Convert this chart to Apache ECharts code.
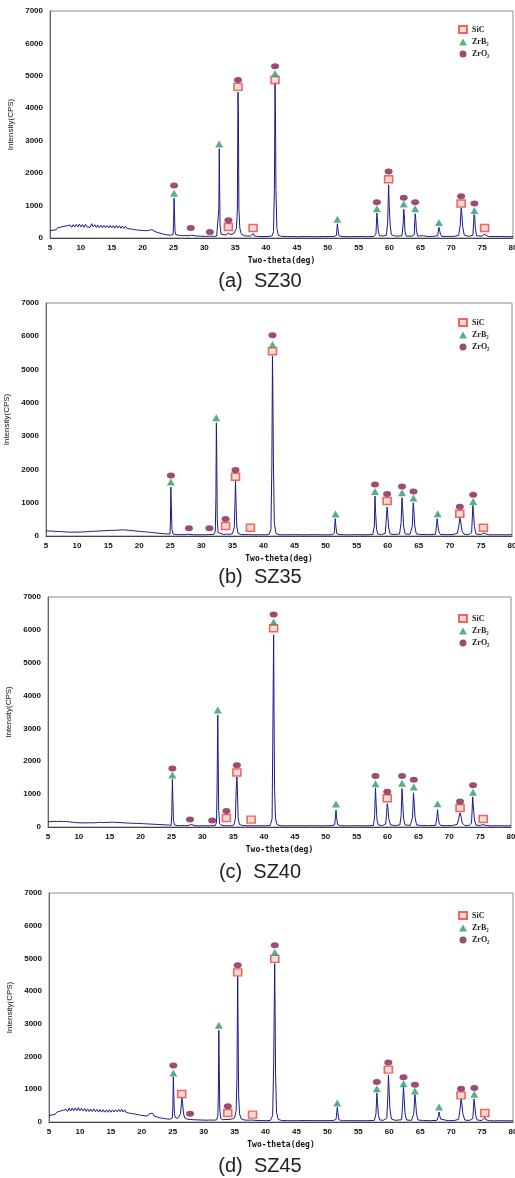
<!DOCTYPE html>
<html>
<head>
<meta charset="utf-8">
<script src="https://cdn.jsdelivr.net/npm/echarts@6/dist/echarts.min.js"></script>
<style>
  html, body { margin: 0; padding: 0; background: #fff; }
  #chart { width: 515px; height: 1178px; }
</style>
</head>
<body>
<div id="chart"></div>
<script>
// x-ray diffraction patterns, [2theta, counts]
const sz30Profile = [
  [5,230],[5.25,290],[5.5,240],[5.75,300],[6,255],[6.25,320],[6.5,270],[6.75,335],[7,290],[7.25,360],[7.5,300],[7.75,375],[8,320],[8.25,400],[8.5,330],[8.75,410],[9,335],[9.25,420],[9.5,340],[9.75,430],[10,345],[10.25,415],[10.5,330],[10.75,420],[11,340],[11.25,400],[11.5,330],[11.75,440],[12,340],[12.25,410],[12.5,325],[12.75,400],[13,320],[13.25,395],[13.5,315],[13.75,390],[14,320],[14.25,385],[14.5,310],[14.75,390],[15,315],[15.25,380],[15.5,305],[15.75,385],[16,310],[16.25,375],[16.5,300],[16.75,370],[17,295],[17.25,360],[17.5,290],[17.75,345],[18,280],[18.25,340],[18.5,265],[18.75,320],[19,250],[19.25,305],[19.5,240],[19.75,290],[20,230],[20.25,280],[20.5,225],[20.75,270],[21,235],[21.25,290],[21.5,260],[21.75,290],[22,200],[22.25,230],[22.5,165],[22.75,195],[23,140],[23.25,165],[23.5,115],[23.75,140],[24,95],[24.25,120],[24.5,85],[24.75,105],
  [24.95,110],[25.02,500],[25.1,1230],[25.16,800],[25.25,200],[25.4,100],[25.7,90],[26,80],[26.5,70],[27,75],[27.5,70],[27.7,90],[27.8,130],[27.9,85],[28.2,70],[28.8,60],[29.5,55],[30.2,50],[30.8,55],[30.9,80],[31,55],[31.5,50],[32,60],[32.25,120],[32.35,900],[32.42,2750],[32.48,1500],[32.55,400],[32.7,120],[33,80],[33.5,90],[33.85,150],[34,120],[34.3,110],[34.8,140],[35.2,300],[35.35,900],[35.45,4500],[35.52,3800],[35.6,900],[35.75,300],[36,120],[36.5,70],[37,60],[37.5,60],[37.8,70],[37.95,140],[38.1,65],[38.6,50],[39.3,45],[40,45],[40.6,50],[41,70],[41.2,200],[41.35,1500],[41.45,4750],[41.52,4000],[41.6,1500],[41.75,300],[42,80],[42.5,50],[43.5,45],[45,40],[46.5,45],[48,40],[49.5,45],[51,45],[51.4,80],[51.55,440],[51.65,250],[51.8,70],[52.3,45],[53.5,40],[55,45],[56.5,40],[57.5,50],[57.8,120],[57.95,770],[58.05,600],[58.15,250],[58.35,70],[59,60],[59.5,90],[59.7,500],[59.85,1640],[59.95,1000],[60.1,400],[60.3,100],[61,55],[62,70],[62.2,400],[62.3,890],[62.4,700],[62.5,200],[62.7,60],[63.6,55],[64,100],[64.15,750],[64.25,600],[64.35,250],[64.55,60],[65.5,70],[65.6,90],[66,50],[67,50],[67.8,70],[68,330],[68.1,250],[68.25,120],[68.45,50],[69.5,50],[70.5,50],[71.2,80],[71.45,400],[71.6,920],[71.7,800],[71.85,350],[72.1,90],[72.8,50],[73.5,80],[73.7,720],[73.8,650],[73.9,300],[74.1,70],[75,55],[75.3,120],[75.4,175],[75.55,90],[76,50],[77,45],[78,45],[79,40],[80,45]
];
const sz35Profile = [
  [5,160],[5.25,115],[5.5,150],[5.75,110],[6,145],[6.25,105],[6.5,140],[6.75,100],[7,135],[7.25,95],[7.5,130],[7.75,90],[8,125],[8.25,85],[8.5,120],[8.75,85],[9,115],[9.25,80],[9.5,115],[9.75,80],[10,120],[10.25,85],[10.5,115],[10.75,85],[11,125],[11.25,90],[11.5,130],[11.75,95],[12,135],[12.25,100],[12.5,140],[12.75,105],[13,145],[13.25,110],[13.5,150],[13.75,115],[14,155],[14.25,115],[14.5,160],[14.75,120],[15,165],[15.25,125],[15.5,170],[15.75,130],[16,170],[16.25,130],[16.5,175],[16.75,135],[17,180],[17.25,135],[17.5,185],[17.75,135],[18,175],[18.25,130],[18.5,170],[18.75,125],[19,160],[19.25,115],[19.5,150],[19.75,110],[20,140],[20.25,100],[20.5,130],[20.75,95],[21,125],[21.25,90],[21.5,115],[21.75,80],[22,105],[22.25,70],[22.5,95],[22.75,60],[23,85],[23.25,55],[23.5,75],[23.75,45],[24,70],[24.25,45],[24.5,60],[24.75,40],
  [24.95,60],[25.02,400],[25.1,1470],[25.17,900],[25.27,200],[25.45,60],[25.8,45],[26.3,40],[26.8,45],[27.4,40],[27.85,55],[28,100],[28.15,50],[28.7,40],[29.3,35],[30,40],[30.7,35],[31.15,45],[31.3,70],[31.45,40],[32,45],[32.25,150],[32.35,1200],[32.42,3400],[32.48,2500],[32.56,500],[32.7,100],[33,50],[33.6,45],[33.85,90],[34.05,55],[34.6,50],[35,70],[35.3,250],[35.42,1000],[35.5,1650],[35.58,1050],[35.7,300],[35.9,80],[36.4,45],[37,40],[37.6,45],[37.85,60],[38.1,40],[38.8,35],[39.5,40],[40.3,35],[40.9,50],[41.2,200],[41.35,2100],[41.45,5410],[41.52,4200],[41.6,2200],[41.75,400],[42,80],[42.5,40],[43.5,35],[45,40],[46.5,35],[48,40],[49.5,35],[51,40],[51.4,80],[51.55,520],[51.65,300],[51.8,70],[52.3,40],[53.5,35],[55,40],[56.5,35],[57.6,45],[57.85,300],[57.95,1200],[58.05,700],[58.2,200],[58.4,60],[59,45],[59.6,80],[59.8,600],[59.9,870],[60,650],[60.15,250],[60.4,60],[61,45],[61.9,60],[62.15,400],[62.3,1150],[62.4,850],[62.55,300],[62.8,60],[63.6,50],[63.95,300],[64.1,1000],[64.2,800],[64.35,300],[64.6,60],[65.5,45],[66.5,40],[67.7,50],[67.95,520],[68.05,350],[68.2,150],[68.45,45],[69.5,40],[70.5,45],[71.2,80],[71.45,300],[71.6,540],[71.75,420],[71.95,150],[72.3,50],[73,45],[73.5,100],[73.7,920],[73.8,700],[73.95,280],[74.2,60],[75,45],[75.3,70],[75.45,90],[75.6,55],[76.2,40],[77,35],[78,40],[79,35],[80,40]
];
const sz40Profile = [
  [5,160],[5.25,120],[5.5,165],[5.75,125],[6,170],[6.25,125],[6.5,165],[6.75,120],[7,170],[7.25,125],[7.5,165],[7.75,120],[8,170],[8.25,115],[8.5,155],[8.75,105],[9,145],[9.25,95],[9.5,135],[9.75,90],[10,130],[10.25,85],[10.5,125],[10.75,85],[11,125],[11.25,85],[11.5,130],[11.75,90],[12,125],[12.25,85],[12.5,130],[12.75,90],[13,135],[13.25,95],[13.5,140],[13.75,95],[14,135],[14.25,95],[14.5,140],[14.75,100],[15,145],[15.25,100],[15.5,145],[15.75,100],[16,140],[16.25,95],[16.5,135],[16.75,90],[17,130],[17.25,85],[17.5,125],[17.75,85],[18,120],[18.25,80],[18.5,115],[18.75,75],[19,110],[19.25,75],[19.5,110],[19.75,70],[20,105],[20.25,70],[20.5,100],[20.75,65],[21,95],[21.25,60],[21.5,90],[21.75,60],[22,85],[22.25,55],[22.5,80],[22.75,50],[23,75],[23.25,45],[23.5,70],[23.75,40],[24,65],[24.25,40],[24.5,60],[24.75,35],
  [24.95,50],[25.05,400],[25.15,1455],[25.22,900],[25.32,200],[25.5,60],[25.9,45],[26.5,40],[27.1,45],[27.7,40],[27.95,55],[28.1,80],[28.25,45],[28.8,40],[29.5,35],[30.2,40],[30.9,35],[31.35,40],[31.5,55],[31.65,35],[32.1,45],[32.3,150],[32.4,1400],[32.5,3410],[32.56,2300],[32.65,500],[32.8,100],[33.2,45],[33.7,40],[33.9,60],[34.1,40],[34.7,40],[35.1,60],[35.35,250],[35.48,1100],[35.6,1525],[35.68,1150],[35.8,300],[36,80],[36.5,45],[37.2,40],[37.75,40],[37.9,50],[38.05,35],[38.7,35],[39.5,40],[40.3,35],[41,50],[41.3,250],[41.42,2800],[41.55,5850],[41.62,3400],[41.7,1200],[41.85,250],[42.1,70],[42.6,40],[43.6,35],[45,40],[46.5,35],[48,40],[49.5,35],[51,40],[51.45,70],[51.65,510],[51.75,300],[51.9,70],[52.4,40],[53.5,35],[55,40],[56.5,35],[57.7,45],[57.9,300],[58.05,1190],[58.15,700],[58.3,200],[58.5,60],[59.2,45],[59.7,90],[59.85,400],[59.95,710],[60.05,600],[60.2,250],[60.5,60],[61.2,45],[62,60],[62.2,350],[62.35,1170],[62.45,800],[62.6,250],[62.85,60],[63.7,50],[64.05,300],[64.2,1040],[64.3,800],[64.45,300],[64.7,60],[65.5,45],[66.5,40],[67.8,50],[68,300],[68.1,530],[68.2,320],[68.35,120],[68.6,45],[69.5,40],[70.5,45],[71.3,80],[71.55,280],[71.75,430],[71.9,330],[72.1,120],[72.5,50],[73.2,45],[73.6,120],[73.8,915],[73.9,650],[74.05,250],[74.3,60],[75,45],[75.35,70],[75.5,100],[75.65,55],[76.3,40],[77,35],[78,40],[79,35],[80,40]
];
const sz45Profile = [
  [5,200],[5.25,250],[5.5,215],[5.75,275],[6,235],[6.25,300],[6.5,255],[6.75,330],[7,280],[7.25,355],[7.5,300],[7.75,385],[8,320],[8.25,430],[8.5,335],[8.75,425],[9,345],[9.25,430],[9.5,350],[9.75,440],[10,345],[10.25,420],[10.5,335],[10.75,410],[11,325],[11.25,400],[11.5,320],[11.75,395],[12,320],[12.25,400],[12.5,315],[12.75,385],[13,305],[13.25,380],[13.5,300],[13.75,375],[14,300],[14.25,370],[14.5,300],[14.75,375],[15,300],[15.25,370],[15.5,305],[15.75,375],[16,310],[16.25,385],[16.5,315],[16.75,390],[17,305],[17.25,370],[17.5,290],[17.75,350],[18,270],[18.25,330],[18.5,255],[18.75,310],[19,240],[19.25,290],[19.5,220],[19.75,265],[20,200],[20.25,245],[20.5,185],[20.75,230],[21,190],[21.25,255],[21.5,250],[21.75,270],[22,180],[22.25,210],[22.5,150],[22.75,185],[23,125],[23.25,155],[23.5,110],[23.75,140],[24,95],[24.25,125],[24.5,85],[24.75,115],
  [24.95,120],[25.02,450],[25.1,1375],[25.17,850],[25.27,250],[25.45,130],[25.8,110],[26.1,130],[26.25,250],[26.4,550],[26.5,730],[26.6,560],[26.75,250],[26.95,120],[27.3,90],[27.65,80],[27.8,120],[27.95,75],[28.4,70],[29,65],[29.7,60],[30.4,55],[31,60],[31.6,55],[32.1,65],[32.3,200],[32.38,1000],[32.45,2800],[32.52,1600],[32.6,400],[32.75,110],[33.1,70],[33.6,75],[33.9,110],[34.1,80],[34.6,90],[35,130],[35.25,350],[35.38,1300],[35.5,4450],[35.56,3000],[35.65,800],[35.8,250],[36.05,100],[36.6,60],[37.2,55],[37.7,60],[37.9,90],[38.1,55],[38.7,45],[39.4,45],[40.2,40],[40.8,50],[41.15,200],[41.32,1800],[41.48,4840],[41.55,3400],[41.62,1500],[41.78,300],[42.05,80],[42.6,45],[43.6,40],[45,40],[46.5,45],[48,40],[49.5,40],[51,45],[51.4,80],[51.6,450],[51.7,280],[51.85,70],[52.3,40],[53.5,40],[55,40],[56.5,40],[57.6,50],[57.85,250],[58,890],[58.1,600],[58.25,200],[58.45,60],[59.1,55],[59.6,120],[59.75,700],[59.87,1430],[59.97,1000],[60.1,400],[60.35,90],[61,50],[62,70],[62.15,500],[62.3,1090],[62.4,750],[62.55,250],[62.8,60],[63.6,50],[63.95,250],[64.15,835],[64.25,650],[64.4,250],[64.65,60],[65.5,45],[66.5,40],[67.7,50],[67.95,180],[68.05,305],[68.15,200],[68.3,90],[68.5,45],[69.5,40],[70.5,45],[71.2,80],[71.45,400],[71.6,705],[71.72,580],[71.9,250],[72.2,60],[72.9,45],[73.5,100],[73.7,705],[73.8,550],[73.95,230],[74.2,60],[75,45],[75.3,90],[75.45,140],[75.6,70],[76.2,40],[77,35],[78,40],[79,35],[80,40]
];

// phase markers, [2theta, marker height]
const sz30SiC = [[33.9,340],[35.45,4660],[37.9,310],[41.45,4870],[59.85,1810],[71.6,1065],[75.4,310]];
const sz30ZrB2 = [[25.1,1380],[32.4,2900],[41.45,5070],[51.55,580],[57.95,900],[62.3,1045],[64.15,900],[68.0,480],[73.75,850]];
const sz30ZrO2 = [[25.1,1620],[27.8,310],[30.9,185],[33.9,550],[35.45,4870],[41.45,5300],[57.95,1100],[59.85,2050],[62.3,1240],[64.15,1100],[71.6,1290],[73.75,1065]];

const sz35SiC = [[33.9,300],[35.5,1780],[37.9,250],[41.45,5550],[59.9,1050],[71.6,670],[75.4,250]];
const sz35ZrB2 = [[25.1,1620],[32.4,3555],[41.45,5750],[51.6,660],[57.95,1340],[62.3,1300],[64.15,1140],[68.05,670],[73.75,1040]];
const sz35ZrO2 = [[25.1,1820],[28.0,230],[31.3,230],[33.9,510],[35.5,1980],[41.45,6030],[57.95,1550],[59.9,1260],[62.3,1490],[64.15,1340],[71.6,880],[73.75,1240]];

const sz40SiC = [[33.9,275],[35.6,1660],[37.9,225],[41.55,6050],[59.95,875],[71.75,580],[75.5,245]];
const sz40ZrB2 = [[25.15,1580],[32.5,3560],[41.55,6240],[51.65,700],[58.05,1320],[62.35,1330],[64.25,1220],[68.1,710],[73.85,1060]];
const sz40ZrO2 = [[25.15,1780],[28.0,225],[31.6,200],[33.9,490],[35.6,1880],[41.55,6470],[58.05,1550],[59.95,1070],[62.35,1555],[64.25,1435],[71.75,775],[73.85,1270]];

const sz45SiC = [[26.45,855],[33.9,275],[35.5,4575],[37.9,225],[41.5,4985],[59.85,1600],[71.6,815],[75.45,275]];
const sz45ZrB2 = [[25.1,1500],[32.45,2955],[41.5,5190],[51.6,580],[58.0,1020],[62.3,1170],[64.15,950],[68.05,460],[73.75,845]];
const sz45ZrO2 = [[25.1,1730],[27.8,255],[33.9,480],[35.5,4790],[41.5,5400],[58.0,1225],[59.85,1815],[62.3,1365],[64.15,1140],[71.6,1020],[73.75,1040]];

const captions = ["(a)  SZ30", "(b)  SZ35", "(c)  SZ40", "(d)  SZ45"];
const phaseNames = ["SiC", "ZrB\u2082", "ZrO\u2082"];

const panels = [
    { profile: sz30Profile, markers: [sz30SiC, sz30ZrB2, sz30ZrO2] },
    { profile: sz35Profile, markers: [sz35SiC, sz35ZrB2, sz35ZrO2] },
    { profile: sz40Profile, markers: [sz40SiC, sz40ZrB2, sz40ZrO2] },
    { profile: sz45Profile, markers: [sz45SiC, sz45ZrB2, sz45ZrO2] },
];

// layout of each panel (plot box, caption centre, legend top)
const boxes = [
    { left: 50, top: 11, width: 463, height: 227, capY: 281, legTop: 25 },
    { left: 46, top: 303, width: 466, height: 233, capY: 577, legTop: 318 },
    { left: 48, top: 597, width: 463, height: 230, capY: 872, legTop: 614 },
    { left: 49, top: 893, width: 464, height: 229, capY: 1166, legTop: 911 },
];

const markerStyles = [
    { symbol: "rect", symbolSize: [8, 7], itemStyle: { color: "#fcd3cc", borderColor: "#e8453c", borderWidth: 1.5 } },
    { symbol: "triangle", symbolSize: [8, 7], itemStyle: { color: "#2e9a6b" } },
    { symbol: "circle", symbolSize: [8, 6], itemStyle: { color: "#85214f" } },
];

const tickFont = { fontSize: 8, fontWeight: "bold", color: "#111", fontFamily: "Liberation Sans, Arial, sans-serif" };

const grid = [], xAxis = [], yAxis = [], series = [], legend = [], graphic = [];

panels.forEach((p, i) => {
    const b = boxes[i];
    grid.push({
        left: b.left, top: b.top, width: b.width, height: b.height,
        containLabel: false, outerBoundsMode: "none",
        show: true, borderColor: "#8c8c8c", borderWidth: 1, backgroundColor: "transparent",
    });
    xAxis.push({
        gridIndex: i, type: "value", min: 5, max: 80, interval: 5,
        axisLine: { show: true, onZero: false, lineStyle: { color: "#444", width: 1 } },
        axisTick: { show: false },
        splitLine: { show: false },
        axisLabel: { ...tickFont, margin: 6, formatter: (v) => String(v) },
        name: "Two-theta(deg)", nameLocation: "middle", nameGap: 19,
        nameTextStyle: { fontSize: 8, fontWeight: "bold", color: "#111", fontFamily: "DejaVu Sans Mono, monospace" },
    });
    yAxis.push({
        gridIndex: i, type: "value", min: 0, max: 7000, interval: 1000,
        axisLine: { show: true, lineStyle: { color: "#666", width: 1 } },
        axisTick: { show: false },
        splitLine: { show: false },
        axisLabel: { ...tickFont, margin: 7, formatter: (v) => String(v) },
        name: "Intensity(CPS)", nameLocation: "middle", nameGap: 35, nameRotate: 90,
        nameTextStyle: { fontSize: 8, color: "#111", fontFamily: "Liberation Sans, Arial, sans-serif" },
    });
    series.push({
        type: "line", xAxisIndex: i, yAxisIndex: i,
        data: p.profile, showSymbol: false, z: 2,
        lineStyle: { color: "#1b1b8a", width: 1 },
        silent: true,
    });
    p.markers.forEach((m, k) => {
        series.push({
            type: "scatter", name: phaseNames[k], xAxisIndex: i, yAxisIndex: i,
            data: m, z: 3, ...markerStyles[k],
        });
    });
    legend.push({
        data: phaseNames, orient: "vertical", left: 458, top: b.legTop,
        itemWidth: 8, itemHeight: 7, itemGap: 4, padding: 0,
        textStyle: { fontSize: 8, fontWeight: "bold", color: "#222", fontFamily: "Liberation Serif, serif" },
    });
    graphic.push({
        type: "text", x: 260, y: b.capY,
        style: {
            text: captions[i], textAlign: "center", textVerticalAlign: "middle",
            font: "20px 'Liberation Sans', Arial, sans-serif", fill: "#222",
        },
    });
});

const chart = echarts.init(document.getElementById("chart"), null, { renderer: "canvas" });
chart.setOption({
    animation: false,
    backgroundColor: "#fff",
    grid, xAxis, yAxis, series, legend, graphic,
});
</script>
</body>
</html>
